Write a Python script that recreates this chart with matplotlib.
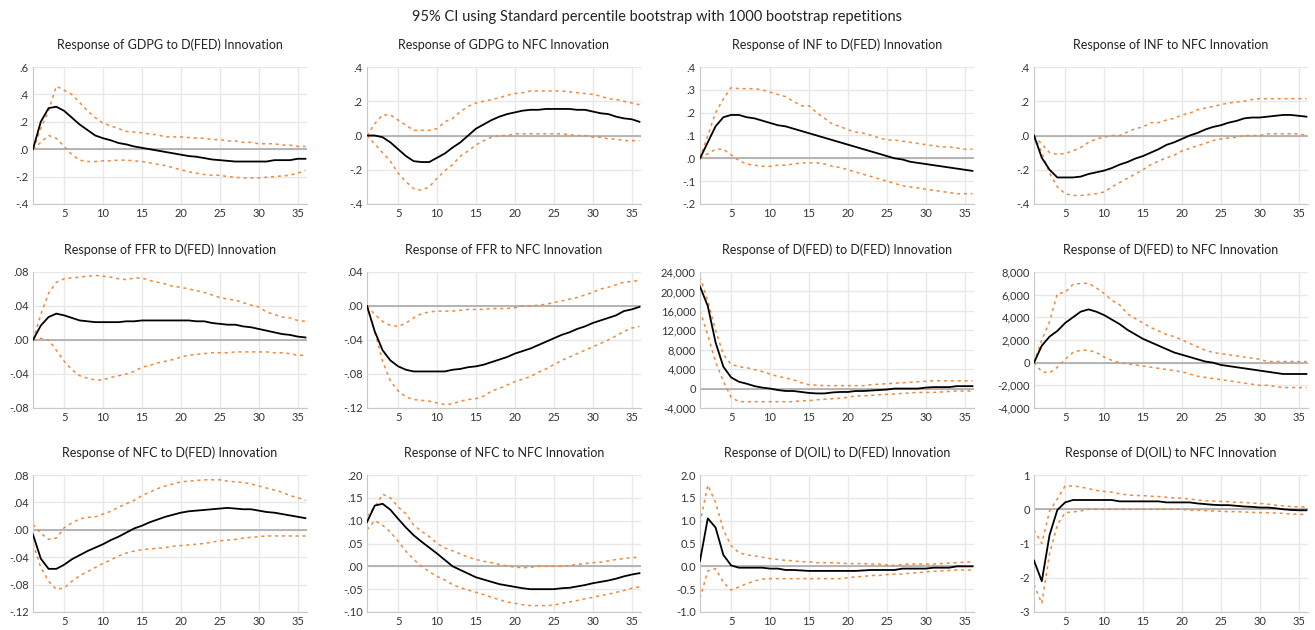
import matplotlib
matplotlib.use("Agg")
import matplotlib.pyplot as plt
from matplotlib.ticker import FuncFormatter
import numpy as np

plt.rcParams['font.family'] = ['Lato', 'DejaVu Sans']

periods = list(range(1, 37))

titles = [
    "Response of GDPG to D(FED) Innovation", "Response of GDPG to NFC Innovation",
    "Response of INF to D(FED) Innovation", "Response of INF to NFC Innovation",
    "Response of FFR to D(FED) Innovation", "Response of FFR to NFC Innovation",
    "Response of D(FED) to D(FED) Innovation", "Response of D(FED) to NFC Innovation",
    "Response of NFC to D(FED) Innovation", "Response of NFC to NFC Innovation",
    "Response of D(OIL) to D(FED) Innovation", "Response of D(OIL) to NFC Innovation",
]

# GDPG to D(FED)
gdpg_fed = [0.0, 0.2, 0.30, 0.31, 0.28, 0.23, 0.18, 0.14, 0.10, 0.08, 0.065, 0.045, 0.035, 0.02, 0.01, 0.0,
            -0.01, -0.02, -0.03, -0.04, -0.05, -0.055, -0.065, -0.075, -0.08, -0.085, -0.09, -0.09, -0.09, -0.09,
            -0.09, -0.08, -0.08, -0.08, -0.07, -0.07]
gdpg_fed_hi = [0.0, 0.15, 0.28, 0.46, 0.43, 0.40, 0.34, 0.28, 0.23, 0.19, 0.17, 0.15, 0.13, 0.125, 0.12, 0.11,
               0.105, 0.09, 0.09, 0.09, 0.085, 0.08, 0.08, 0.07, 0.07, 0.06, 0.06, 0.05, 0.05, 0.04,
               0.04, 0.04, 0.03, 0.03, 0.02, 0.02]
gdpg_fed_lo = [0.0, 0.05, 0.10, 0.08, 0.02, -0.04, -0.08, -0.09, -0.09, -0.085, -0.085, -0.08, -0.08, -0.085, -0.09, -0.10,
               -0.11, -0.12, -0.135, -0.15, -0.165, -0.175, -0.185, -0.19, -0.19, -0.20, -0.205, -0.21, -0.21, -0.21,
               -0.205, -0.20, -0.195, -0.19, -0.175, -0.155]

# GDPG to NFC
gdpg_nfc = [0.0, 0.0, -0.01, -0.04, -0.08, -0.12, -0.15, -0.155, -0.155, -0.13, -0.105, -0.07, -0.04, 0.0, 0.04, 0.065,
            0.09, 0.11, 0.125, 0.135, 0.145, 0.15, 0.15, 0.155, 0.155, 0.155, 0.155, 0.15, 0.15, 0.14,
            0.13, 0.125, 0.11, 0.10, 0.095, 0.08]
gdpg_nfc_hi = [0.0, 0.07, 0.12, 0.12, 0.09, 0.06, 0.03, 0.03, 0.03, 0.04, 0.08, 0.10, 0.14, 0.17, 0.19, 0.20,
               0.21, 0.22, 0.235, 0.245, 0.25, 0.26, 0.26, 0.26, 0.26, 0.26, 0.255, 0.25, 0.245, 0.24,
               0.23, 0.215, 0.21, 0.20, 0.19, 0.18]
gdpg_nfc_lo = [0.0, -0.05, -0.10, -0.15, -0.22, -0.27, -0.31, -0.32, -0.30, -0.25, -0.205, -0.17, -0.12, -0.09, -0.055, -0.03,
               -0.01, 0.0, 0.0, 0.01, 0.01, 0.01, 0.01, 0.01, 0.01, 0.01, 0.005, 0.0, 0.0, -0.01,
               -0.01, -0.02, -0.02, -0.03, -0.03, -0.03]

# INF to D(FED)
inf_fed = [0.0, 0.07, 0.14, 0.18, 0.19, 0.19, 0.18, 0.175, 0.165, 0.155, 0.145, 0.14, 0.13, 0.12, 0.11, 0.10,
           0.09, 0.08, 0.07, 0.06, 0.05, 0.04, 0.03, 0.02, 0.01, 0.0, -0.005, -0.015, -0.02, -0.025,
           -0.03, -0.035, -0.04, -0.045, -0.05, -0.055]
inf_fed_hi = [0.0, 0.10, 0.20, 0.26, 0.31, 0.305, 0.305, 0.305, 0.30, 0.29, 0.28, 0.27, 0.25, 0.23, 0.23, 0.20,
              0.175, 0.15, 0.14, 0.125, 0.115, 0.11, 0.10, 0.09, 0.08, 0.08, 0.075, 0.07, 0.065, 0.06,
              0.055, 0.05, 0.05, 0.045, 0.04, 0.04]
inf_fed_lo = [0.0, 0.02, 0.04, 0.04, 0.015, -0.01, -0.025, -0.03, -0.035, -0.035, -0.03, -0.03, -0.025, -0.02, -0.02, -0.02,
              -0.025, -0.035, -0.04, -0.05, -0.06, -0.07, -0.08, -0.09, -0.10, -0.11, -0.12, -0.125, -0.13, -0.135,
              -0.14, -0.145, -0.15, -0.155, -0.155, -0.155]

# INF to NFC
inf_nfc = [0.0, -0.13, -0.20, -0.245, -0.245, -0.245, -0.24, -0.225, -0.215, -0.205, -0.19, -0.17, -0.155, -0.135, -0.12, -0.10,
           -0.08, -0.055, -0.04, -0.02, 0.0, 0.015, 0.035, 0.05, 0.06, 0.075, 0.085, 0.10, 0.105, 0.105,
           0.11, 0.115, 0.12, 0.12, 0.115, 0.11]
inf_nfc_hi = [0.0, -0.05, -0.10, -0.11, -0.105, -0.09, -0.07, -0.04, -0.02, -0.01, 0.0, 0.0, 0.02, 0.04, 0.05, 0.075,
              0.075, 0.09, 0.10, 0.12, 0.13, 0.15, 0.16, 0.17, 0.18, 0.19, 0.195, 0.20, 0.21, 0.215,
              0.215, 0.215, 0.215, 0.215, 0.215, 0.215]
inf_nfc_lo = [0.0, -0.10, -0.22, -0.30, -0.34, -0.35, -0.35, -0.345, -0.34, -0.33, -0.30, -0.275, -0.25, -0.225, -0.20, -0.17,
              -0.15, -0.13, -0.115, -0.09, -0.075, -0.06, -0.045, -0.03, -0.02, -0.015, -0.01, 0.0, 0.0, 0.0,
              0.01, 0.01, 0.01, 0.01, 0.01, 0.0]

# FFR to D(FED)
ffr_fed = [0.0, 0.017, 0.027, 0.031, 0.029, 0.026, 0.023, 0.022, 0.021, 0.021, 0.021, 0.021, 0.022, 0.022, 0.023, 0.023,
           0.023, 0.023, 0.023, 0.023, 0.023, 0.022, 0.022, 0.020, 0.019, 0.018, 0.018, 0.016, 0.015, 0.013,
           0.011, 0.009, 0.007, 0.006, 0.004, 0.003]
ffr_fed_hi = [0.0, 0.030, 0.055, 0.068, 0.072, 0.073, 0.074, 0.075, 0.076, 0.075, 0.074, 0.072, 0.071, 0.073, 0.073, 0.070,
              0.068, 0.066, 0.063, 0.062, 0.060, 0.058, 0.056, 0.053, 0.050, 0.048, 0.047, 0.044, 0.041, 0.039,
              0.033, 0.030, 0.027, 0.026, 0.023, 0.022]
ffr_fed_lo = [0.0, 0.002, 0.0, -0.012, -0.025, -0.035, -0.042, -0.045, -0.047, -0.047, -0.044, -0.042, -0.040, -0.037, -0.032, -0.030,
              -0.027, -0.025, -0.023, -0.020, -0.018, -0.017, -0.016, -0.015, -0.015, -0.015, -0.014, -0.014, -0.014, -0.014,
              -0.014, -0.015, -0.015, -0.016, -0.018, -0.018]

# FFR to NFC
ffr_nfc = [0.0, -0.030, -0.052, -0.064, -0.071, -0.075, -0.077, -0.077, -0.077, -0.077, -0.077, -0.075, -0.074, -0.072, -0.071, -0.069,
           -0.066, -0.063, -0.060, -0.056, -0.053, -0.050, -0.046, -0.042, -0.038, -0.034, -0.031, -0.027, -0.024, -0.020,
           -0.017, -0.014, -0.011, -0.006, -0.004, -0.001]
ffr_nfc_hi = [0.0, -0.010, -0.018, -0.023, -0.024, -0.020, -0.014, -0.009, -0.007, -0.006, -0.006, -0.006, -0.005, -0.004, -0.004, -0.004,
              -0.003, -0.003, -0.003, -0.002, 0.0, 0.0, 0.001, 0.002, 0.004, 0.006, 0.008, 0.010, 0.013, 0.016,
              0.020, 0.022, 0.025, 0.028, 0.029, 0.030]
ffr_nfc_lo = [0.0, -0.030, -0.065, -0.088, -0.100, -0.107, -0.110, -0.111, -0.112, -0.114, -0.116, -0.115, -0.112, -0.110, -0.109, -0.106,
              -0.100, -0.097, -0.093, -0.089, -0.086, -0.083, -0.078, -0.074, -0.069, -0.064, -0.060, -0.056, -0.052, -0.048,
              -0.044, -0.040, -0.035, -0.030, -0.026, -0.024]

# D(FED) to D(FED)
fed_fed = [21000, 17000, 9500, 4500, 2300, 1400, 1000, 500, 200, 0, -300, -500, -500, -700, -900, -1000,
           -1000, -800, -700, -700, -500, -500, -400, -300, -200, 0, 0, 0, 0, 200,
           300, 300, 300, 500, 500, 500]
fed_fed_hi = [23000, 18000, 12000, 7000, 5000, 4500, 4300, 3900, 3500, 3000, 2500, 2200, 1800, 1200, 800, 700,
              600, 600, 600, 600, 600, 600, 800, 900, 1000, 1100, 1200, 1300, 1400, 1500,
              1600, 1600, 1600, 1600, 1600, 1600]
fed_fed_lo = [16000, 11000, 5500, 1500, -1800, -2700, -2700, -2700, -2700, -2700, -2700, -2700, -2700, -2500, -2500, -2300,
              -2200, -2100, -2000, -1800, -1500, -1500, -1400, -1300, -1200, -1100, -1000, -900, -800, -800,
              -800, -700, -600, -500, -500, -500]

# D(FED) to NFC
fed_nfc = [0, 1500, 2300, 2800, 3500, 4000, 4500, 4700, 4500, 4200, 3800, 3400, 2900, 2500, 2100, 1800,
           1500, 1200, 900, 700, 500, 300, 100, 0, -200, -300, -400, -500, -600, -700,
           -800, -900, -1000, -1000, -1000, -1000]
fed_nfc_hi = [0, 2000, 3600, 6100, 6200, 6900, 7000, 7000, 6600, 6100, 5500, 5100, 4300, 3900, 3500, 3100,
              2800, 2500, 2300, 2000, 1700, 1400, 1100, 900, 800, 700, 600, 500, 400, 300,
              100, 100, 100, 100, 100, 100]
fed_nfc_lo = [0, -800, -900, -400, 300, 900, 1100, 1100, 900, 500, 200, 0, -100, -200, -300, -400,
              -500, -600, -700, -800, -1000, -1200, -1300, -1400, -1500, -1600, -1700, -1800, -1900, -2000,
              -2000, -2100, -2200, -2200, -2200, -2200]

# NFC to D(FED)
nfc_fed = [-0.007, -0.042, -0.057, -0.057, -0.051, -0.043, -0.037, -0.031, -0.026, -0.021, -0.015, -0.010, -0.004, 0.002, 0.006, 0.011,
           0.015, 0.019, 0.022, 0.025, 0.027, 0.028, 0.029, 0.030, 0.031, 0.032, 0.031, 0.030, 0.030, 0.028,
           0.026, 0.025, 0.023, 0.021, 0.019, 0.017]
nfc_fed_hi = [0.008, -0.005, -0.014, -0.012, 0.003, 0.010, 0.016, 0.018, 0.019, 0.023, 0.027, 0.033, 0.038, 0.043, 0.050, 0.055,
              0.060, 0.064, 0.067, 0.070, 0.071, 0.072, 0.073, 0.073, 0.073, 0.071, 0.070, 0.069, 0.067, 0.064,
              0.061, 0.058, 0.055, 0.050, 0.047, 0.043]
nfc_fed_lo = [-0.020, -0.055, -0.075, -0.087, -0.085, -0.075, -0.067, -0.061, -0.055, -0.049, -0.044, -0.038, -0.034, -0.031, -0.029, -0.028,
              -0.027, -0.026, -0.024, -0.023, -0.022, -0.021, -0.020, -0.018, -0.016, -0.015, -0.014, -0.012, -0.011, -0.010,
              -0.009, -0.009, -0.009, -0.009, -0.009, -0.009]

# NFC to NFC
nfc_nfc = [0.097, 0.133, 0.137, 0.124, 0.104, 0.085, 0.068, 0.054, 0.041, 0.028, 0.014, 0.0, -0.008, -0.016, -0.024, -0.029,
           -0.034, -0.039, -0.042, -0.045, -0.048, -0.050, -0.050, -0.050, -0.050, -0.048, -0.047, -0.044, -0.041, -0.037,
           -0.034, -0.031, -0.027, -0.022, -0.018, -0.015]
nfc_nfc_hi = [0.110, 0.130, 0.158, 0.150, 0.130, 0.115, 0.090, 0.077, 0.065, 0.050, 0.040, 0.034, 0.027, 0.020, 0.015, 0.011,
              0.008, 0.004, 0.001, -0.002, -0.003, -0.002, 0.0, 0.0, 0.0, 0.0, 0.002, 0.004, 0.006, 0.008,
              0.009, 0.012, 0.015, 0.017, 0.019, 0.020]
nfc_nfc_lo = [0.080, 0.100, 0.090, 0.075, 0.055, 0.033, 0.015, 0.0, -0.012, -0.022, -0.030, -0.040, -0.047, -0.052, -0.057, -0.062,
              -0.068, -0.073, -0.078, -0.081, -0.084, -0.086, -0.086, -0.086, -0.085, -0.081, -0.078, -0.075, -0.071, -0.068,
              -0.064, -0.061, -0.057, -0.053, -0.048, -0.045]

# D(OIL) to D(FED)
oil_fed = [0.12, 1.05, 0.85, 0.25, 0.02, -0.03, -0.03, -0.03, -0.03, -0.05, -0.05, -0.08, -0.08, -0.09, -0.10, -0.10,
           -0.10, -0.10, -0.10, -0.10, -0.10, -0.09, -0.08, -0.08, -0.08, -0.08, -0.05, -0.05, -0.05, -0.05,
           -0.03, -0.03, -0.03, 0.0, 0.0, 0.0]
oil_fed_hi = [0.95, 1.78, 1.40, 0.80, 0.45, 0.30, 0.25, 0.23, 0.20, 0.17, 0.15, 0.13, 0.12, 0.10, 0.10, 0.08,
              0.08, 0.08, 0.07, 0.06, 0.06, 0.06, 0.05, 0.05, 0.03, 0.02, 0.04, 0.05, 0.05, 0.05,
              0.05, 0.06, 0.07, 0.08, 0.09, 0.10]
oil_fed_lo = [-0.70, -0.10, -0.05, -0.35, -0.52, -0.45, -0.38, -0.32, -0.28, -0.27, -0.27, -0.27, -0.27, -0.27, -0.27, -0.27,
              -0.27, -0.27, -0.27, -0.25, -0.23, -0.22, -0.20, -0.20, -0.18, -0.17, -0.17, -0.15, -0.14, -0.12,
              -0.11, -0.10, -0.09, -0.08, -0.08, -0.08]

# D(OIL) to NFC
oil_nfc = [-1.5, -2.1, -0.75, -0.02, 0.20, 0.27, 0.27, 0.27, 0.27, 0.27, 0.27, 0.23, 0.23, 0.23, 0.23, 0.23,
           0.23, 0.20, 0.20, 0.20, 0.20, 0.17, 0.15, 0.13, 0.12, 0.12, 0.10, 0.08, 0.07, 0.05,
           0.05, 0.03, 0.0, -0.02, -0.03, -0.03]
oil_nfc_hi = [-0.6, -1.0, -0.05, 0.30, 0.68, 0.68, 0.65, 0.60, 0.55, 0.52, 0.50, 0.45, 0.42, 0.40, 0.40, 0.38,
              0.37, 0.35, 0.33, 0.32, 0.30, 0.27, 0.25, 0.24, 0.23, 0.22, 0.20, 0.20, 0.18, 0.17,
              0.15, 0.12, 0.10, 0.08, 0.07, 0.07]
oil_nfc_lo = [-2.2, -2.75, -1.3, -0.45, -0.10, -0.08, -0.05, 0.0, 0.0, 0.0, 0.0, 0.0, 0.0, 0.0, 0.0, 0.0,
              0.0, 0.0, 0.0, 0.0, -0.03, -0.03, -0.04, -0.05, -0.06, -0.07, -0.07, -0.08, -0.09, -0.10,
              -0.10, -0.11, -0.12, -0.14, -0.15, -0.15]

series = [
    (gdpg_fed, gdpg_fed_lo, gdpg_fed_hi), (gdpg_nfc, gdpg_nfc_lo, gdpg_nfc_hi),
    (inf_fed, inf_fed_lo, inf_fed_hi), (inf_nfc, inf_nfc_lo, inf_nfc_hi),
    (ffr_fed, ffr_fed_lo, ffr_fed_hi), (ffr_nfc, ffr_nfc_lo, ffr_nfc_hi),
    (fed_fed, fed_fed_lo, fed_fed_hi), (fed_nfc, fed_nfc_lo, fed_nfc_hi),
    (nfc_fed, nfc_fed_lo, nfc_fed_hi), (nfc_nfc, nfc_nfc_lo, nfc_nfc_hi),
    (oil_fed, oil_fed_lo, oil_fed_hi), (oil_nfc, oil_nfc_lo, oil_nfc_hi),
]

# y range and tick step per panel, and label style
y_ticks = [
    (-0.4, 0.6, 0.2), (-0.4, 0.4, 0.2), (-0.2, 0.4, 0.1), (-0.4, 0.4, 0.2),
    (-0.08, 0.08, 0.04), (-0.12, 0.04, 0.04), (-4000, 24000, 4000), (-4000, 8000, 2000),
    (-0.12, 0.08, 0.04), (-0.10, 0.20, 0.05), (-1.0, 2.0, 0.5), (-3, 1, 1),
]
y_styles = ["d1", "d1", "d1", "d1", "d2", "d2", "comma", "comma", "d2", "d2", "f1", "int"]


def make_fmt(style):
    def f(v, pos):
        if style == "comma":
            return f"{v:,.0f}"
        if style == "int":
            return f"{v:.0f}"
        if style == "f1":
            return f"{v:.1f}"
        s = f"{v:.{int(style[1])}f}"
        if s.startswith("-0"):
            s = "-" + s[2:]
        elif s.startswith("0"):
            s = s[1:]
        return s
    return f


W, H = 1315, 630
fig = plt.figure(figsize=(W / 100, H / 100), dpi=100)
fig.suptitle("95% CI using Standard percentile bootstrap with 1000 bootstrap repetitions",
             y=1 - 17 / H, va="center", fontsize=10.5, color="#222222")

col_left = [33, 367, 700, 1034]
row_top = [67, 272, 475]
row_bot = [204, 408, 612]
aw = 274

orange = "#ED8A3F"
for i in range(12):
    r, c = divmod(i, 4)
    ax = fig.add_axes([col_left[c] / W, 1 - row_bot[r] / H, aw / W, (row_bot[r] - row_top[r]) / H])
    mean, lo, hi = series[i]
    ylo, yhi, step = y_ticks[i]
    ax.set_xlim(1, 36.2)
    ax.set_ylim(ylo, yhi)
    ax.set_xticks(range(5, 36, 5))
    ax.set_yticks(np.arange(ylo, yhi + step / 2, step))
    ax.yaxis.set_major_formatter(FuncFormatter(make_fmt(y_styles[i])))
    ax.grid(True, color="#E8E8E8", lw=1.0)
    ax.set_axisbelow(True)
    ax.axhline(0, color="#AAAAAA", lw=1.2, zorder=1)
    ax.plot(periods, hi, color=orange, lw=1.1, ls=(0, (2, 2.5)), zorder=2)
    ax.plot(periods, lo, color=orange, lw=1.1, ls=(0, (2, 2.5)), zorder=2)
    ax.plot(periods, mean, color="black", lw=1.3, zorder=3)
    for s in ["top", "right"]:
        ax.spines[s].set_visible(False)
    for s in ["left", "bottom"]:
        ax.spines[s].set_color("#C8C8C8")
    ax.tick_params(length=0, labelsize=8, colors="#333333", pad=3)
    ax.set_title(titles[i], fontsize=9, pad=13, color="#222222")

plt.savefig("out.png", dpi=100)
